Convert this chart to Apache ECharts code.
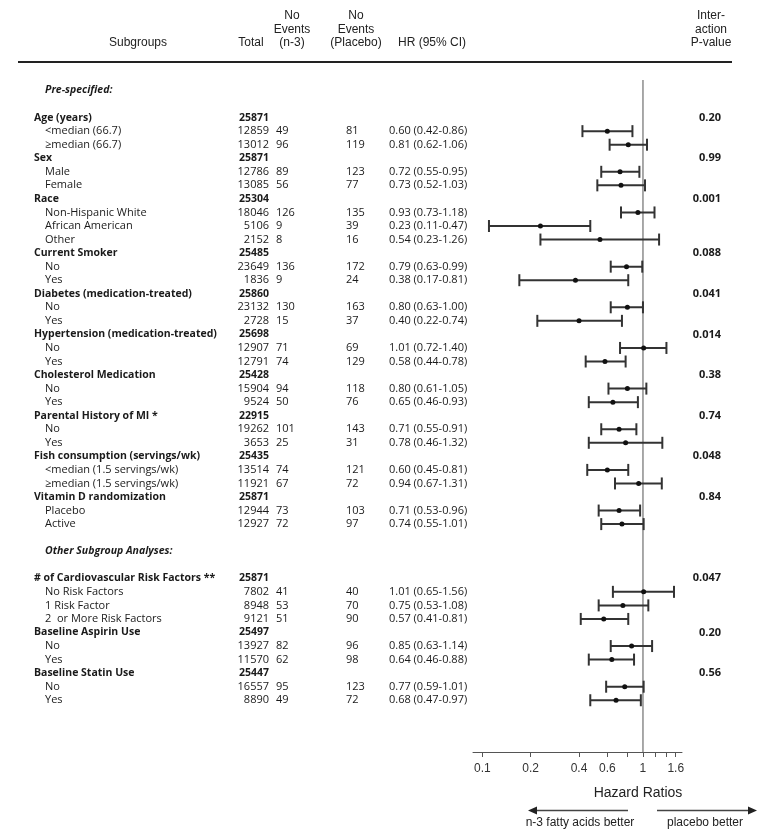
<!DOCTYPE html>
<html>
<head>
<meta charset="utf-8">
<script src="https://cdn.jsdelivr.net/npm/echarts@6/dist/echarts.min.js"></script>
<style>
  html, body { margin: 0; padding: 0; background: #fff; }
  #chart { width: 761px; height: 833px; }
</style>
</head>
<body>
<div id="chart"></div>
<script>
(() => {

    // one entry per table row; '' marks an empty spacer row
    const rowLabels = [
        'Pre-specified:', '',
        'Age (years)', '<median (66.7)', '\u2265median (66.7)',
        'Sex', 'Male', 'Female',
        'Race', 'Non-Hispanic White', 'African American', 'Other',
        'Current Smoker', 'No', 'Yes',
        'Diabetes (medication-treated)', 'No', 'Yes',
        'Hypertension (medication-treated)', 'No', 'Yes',
        'Cholesterol Medication', 'No', 'Yes',
        'Parental History of MI *', 'No', 'Yes',
        'Fish consumption (servings/wk)', '<median (1.5 servings/wk)', '\u2265median (1.5 servings/wk)',
        'Vitamin D randomization', 'Placebo', 'Active',
        '', 'Other Subgroup Analyses:', '',
        '# of Cardiovascular Risk Factors **', 'No Risk Factors', '1 Risk Factor', '2  or More Risk Factors',
        'Baseline Aspirin Use', 'No', 'Yes',
        'Baseline Statin Use', 'No', 'Yes'
    ];
    // s = section title, g = group, i = subgroup item
    const rowKinds = [
        's', '',
        'g', 'i', 'i',
        'g', 'i', 'i',
        'g', 'i', 'i', 'i',
        'g', 'i', 'i',
        'g', 'i', 'i',
        'g', 'i', 'i',
        'g', 'i', 'i',
        'g', 'i', 'i',
        'g', 'i', 'i',
        'g', 'i', 'i',
        '', 's', '',
        'g', 'i', 'i', 'i',
        'g', 'i', 'i',
        'g', 'i', 'i'
    ];
    const totals = [
        null, null,
        25871, 12859, 13012,
        25871, 12786, 13085,
        25304, 18046, 5106, 2152,
        25485, 23649, 1836,
        25860, 23132, 2728,
        25698, 12907, 12791,
        25428, 15904, 9524,
        22915, 19262, 3653,
        25435, 13514, 11921,
        25871, 12944, 12927,
        null, null, null,
        25871, 7802, 8948, 9121,
        25497, 13927, 11570,
        25447, 16557, 8890
    ];
    const eventsN3 = [
        null, null,
        null, 49, 96,
        null, 89, 56,
        null, 126, 9, 8,
        null, 136, 9,
        null, 130, 15,
        null, 71, 74,
        null, 94, 50,
        null, 101, 25,
        null, 74, 67,
        null, 73, 72,
        null, null, null,
        null, 41, 53, 51,
        null, 82, 62,
        null, 95, 49
    ];
    const eventsPlacebo = [
        null, null,
        null, 81, 119,
        null, 123, 77,
        null, 135, 39, 16,
        null, 172, 24,
        null, 163, 37,
        null, 69, 129,
        null, 118, 76,
        null, 143, 31,
        null, 121, 72,
        null, 103, 97,
        null, null, null,
        null, 40, 70, 90,
        null, 96, 98,
        null, 123, 72
    ];
    const hr = [
        null, null,
        null, 0.60, 0.81,
        null, 0.72, 0.73,
        null, 0.93, 0.23, 0.54,
        null, 0.79, 0.38,
        null, 0.80, 0.40,
        null, 1.01, 0.58,
        null, 0.80, 0.65,
        null, 0.71, 0.78,
        null, 0.60, 0.94,
        null, 0.71, 0.74,
        null, null, null,
        null, 1.01, 0.75, 0.57,
        null, 0.85, 0.64,
        null, 0.77, 0.68
    ];
    const ciLow = [
        null, null,
        null, 0.42, 0.62,
        null, 0.55, 0.52,
        null, 0.73, 0.11, 0.23,
        null, 0.63, 0.17,
        null, 0.63, 0.22,
        null, 0.72, 0.44,
        null, 0.61, 0.46,
        null, 0.55, 0.46,
        null, 0.45, 0.67,
        null, 0.53, 0.55,
        null, null, null,
        null, 0.65, 0.53, 0.41,
        null, 0.63, 0.46,
        null, 0.59, 0.47
    ];
    const ciHigh = [
        null, null,
        null, 0.86, 1.06,
        null, 0.95, 1.03,
        null, 1.18, 0.47, 1.26,
        null, 0.99, 0.81,
        null, 1.00, 0.74,
        null, 1.40, 0.78,
        null, 1.05, 0.93,
        null, 0.91, 1.32,
        null, 0.81, 1.31,
        null, 0.96, 1.01,
        null, null, null,
        null, 1.56, 1.08, 0.81,
        null, 1.14, 0.88,
        null, 1.01, 0.97
    ];
    const pValues = [
        null, null,
        '0.20', null, null,
        '0.99', null, null,
        '0.001', null, null, null,
        '0.088', null, null,
        '0.041', null, null,
        '0.014', null, null,
        '0.38', null, null,
        '0.74', null, null,
        '0.048', null, null,
        '0.84', null, null,
        null, null, null,
        '0.047', null, null, null,
        '0.20', null, null,
        '0.56', null, null
    ];
    const tickValues = [0.1, 0.2, 0.4, 0.6, 0.8, 1, 1.2, 1.4, 1.6];
    const tickLabels = [0.1, 0.2, 0.4, 0.6, 1, 1.6];
    const headers = [
        { lines: ['Subgroups'], x: 138, align: 'center' },
        { lines: ['Total'], x: 251, align: 'center' },
        { lines: ['No', 'Events', '(n-3)'], x: 292, align: 'center' },
        { lines: ['No', 'Events', '(Placebo)'], x: 356, align: 'center' },
        { lines: ['HR (95% CI)'], x: 398, align: 'left' },
        { lines: ['Inter-', 'action', 'P-value'], x: 711, align: 'center' }
    ];

    const BODY_FONT = '"Open Sans", sans-serif';
    const HEAD_FONT = '"Liberation Sans", Arial, sans-serif';
    const W = 761, H = 833;
    const ROW_Y0 = 90.5, ROW_H = 13.55, AXIS_Y = 752;
    const Y_MIN = -ROW_Y0 / ROW_H;
    const Y_MAX = (AXIS_Y - ROW_Y0) / ROW_H;
    const REF_TOP = (80 - ROW_Y0) / ROW_H;
    const COL = { group: 34, item: 45, total: 269, n3: 276, placebo: 346, hr: 389, p: 721 };

    // table cells
    let cells = [];
    rowLabels.forEach((label, r) => {
        const kind = rowKinds[r];
        if (!kind) return;
        const bold = kind === 'g';
        if (kind === 's') {
            cells.push({ x: COL.item, r, text: label, font: 'italic bold 10.5px ' + BODY_FONT, align: 'left' });
            return;
        }
        const f = bold ? 'bold 10.5px ' + BODY_FONT : '11px ' + BODY_FONT;
        cells.push({ x: bold ? COL.group : COL.item, r, text: label, font: f, align: 'left' });
        if (totals[r] != null) cells.push({ x: COL.total, r, text: String(totals[r]), font: f, align: 'right' });
        if (eventsN3[r] != null) cells.push({ x: COL.n3, r, text: String(eventsN3[r]), font: f, align: 'left' });
        if (eventsPlacebo[r] != null) cells.push({ x: COL.placebo, r, text: String(eventsPlacebo[r]), font: f, align: 'left' });
        if (hr[r] != null) {
            const t = hr[r].toFixed(2) + ' (' + ciLow[r].toFixed(2) + '-' + ciHigh[r].toFixed(2) + ')';
            cells.push({ x: COL.hr, r, text: t, font: f, align: 'left' });
        }
        if (pValues[r] != null) cells.push({ x: COL.p, r, text: pValues[r], font: 'bold 11px ' + BODY_FONT, align: 'right' });
    });

    const ciRows = hr.map((v, r) => v == null ? null : r).filter(r => r != null);

    let graphics = [
        { type: 'line', shape: { x1: 18, y1: 62, x2: 732, y2: 62 }, style: { stroke: '#222', lineWidth: 2 } }
    ];
    headers.forEach(h => {
        h.lines.forEach((line, i) => {
            graphics.push({
                type: 'text', x: h.x, y: 43 - (h.lines.length - 1 - i) * 13.5,
                style: { text: line, font: '12px ' + HEAD_FONT, fill: '#222', textAlign: h.align, textVerticalAlign: 'middle' }
            });
        });
    });
    graphics.push(
        { type: 'text', x: 638, y: 793, style: { text: 'Hazard Ratios', font: '14px ' + HEAD_FONT, fill: '#222', textAlign: 'center', textVerticalAlign: 'middle' } },
        { type: 'line', shape: { x1: 536, y1: 810.5, x2: 628, y2: 810.5 }, style: { stroke: '#444', lineWidth: 1.5 } },
        { type: 'polygon', shape: { points: [[528, 810.5], [537, 806.5], [537, 814.5]] }, style: { fill: '#222' } },
        { type: 'line', shape: { x1: 657, y1: 810.5, x2: 750, y2: 810.5 }, style: { stroke: '#444', lineWidth: 1.5 } },
        { type: 'polygon', shape: { points: [[757, 810.5], [748, 806.5], [748, 814.5]] }, style: { fill: '#222' } },
        { type: 'text', x: 580, y: 823, style: { text: 'n-3 fatty acids better', font: '12px ' + HEAD_FONT, fill: '#222', textAlign: 'center', textVerticalAlign: 'middle' } },
        { type: 'text', x: 705, y: 823, style: { text: 'placebo better', font: '12px ' + HEAD_FONT, fill: '#222', textAlign: 'center', textVerticalAlign: 'middle' } }
    );

    const yAxisBase = { type: 'value', inverse: true, min: Y_MIN, max: Y_MAX, show: false };

    let myChart = echarts.init(document.getElementById('chart'), null, { renderer: 'canvas' });
    myChart.setOption({
        animation: false,
        backgroundColor: '#fff',
        grid: [
            { left: 473, right: W - 682, top: 0, bottom: H - AXIS_Y },
            { left: 0, right: 0, top: 0, bottom: H - AXIS_Y }
        ],
        xAxis: [
            {
                type: 'log', logBase: 10, min: 0.0875, max: 1.75, gridIndex: 0, position: 'bottom',
                axisLine: { onZero: false, lineStyle: { color: '#555', width: 1 } },
                axisTick: { customValues: tickValues, length: 5, lineStyle: { color: '#555' } },
                axisLabel: {
                    customValues: tickLabels, margin: 11, color: '#333', fontSize: 12,
                    fontFamily: HEAD_FONT, formatter: v => String(+(+v).toPrecision(3))
                },
                splitLine: { show: false }
            },
            { type: 'value', min: 0, max: W, gridIndex: 1, show: false }
        ],
        yAxis: [
            Object.assign({ gridIndex: 0 }, yAxisBase),
            Object.assign({ gridIndex: 1 }, yAxisBase)
        ],
        series: [
            {
                // reference line at HR = 1
                type: 'line', xAxisIndex: 0, yAxisIndex: 0, z: 1,
                data: [[1, REF_TOP], [1, Y_MAX]],
                symbol: 'none', silent: true,
                lineStyle: { color: '#8c8c8c', width: 1.5 }
            },
            {
                type: 'custom', xAxisIndex: 0, yAxisIndex: 0, z: 2,
                data: ciRows.map(r => [hr[r], r, ciLow[r], ciHigh[r]]),
                encode: { x: [0, 2, 3], y: 1 },
                renderItem: (params, api) => {
                    const y = api.value(1);
                    const a = api.coord([api.value(2), y]);
                    const b = api.coord([api.value(3), y]);
                    const m = api.coord([api.value(0), y]);
                    const cap = 6;
                    const ls = { stroke: '#333', lineWidth: 2 };
                    return {
                        type: 'group', children: [
                            { type: 'line', shape: { x1: a[0], y1: a[1], x2: b[0], y2: b[1] }, style: ls },
                            { type: 'line', shape: { x1: a[0], y1: a[1] - cap, x2: a[0], y2: a[1] + cap }, style: ls },
                            { type: 'line', shape: { x1: b[0], y1: b[1] - cap, x2: b[0], y2: b[1] + cap }, style: ls },
                            { type: 'circle', shape: { cx: m[0], cy: m[1], r: 2.5 }, style: { fill: '#111' } }
                        ]
                    };
                }
            },
            {
                // table text
                type: 'custom', xAxisIndex: 1, yAxisIndex: 1, z: 3, silent: true,
                data: cells.map(c => [c.x, c.r]),
                renderItem: (params, api) => {
                    const c = cells[params.dataIndex];
                    const p = api.coord([api.value(0), api.value(1)]);
                    return {
                        type: 'text', x: p[0], y: p[1],
                        style: { text: c.text, font: c.font, fill: '#1a1a1a', textAlign: c.align, textVerticalAlign: 'middle' }
                    };
                }
            }
        ],
        graphic: graphics
    });
})();
</script>
</body>
</html>
